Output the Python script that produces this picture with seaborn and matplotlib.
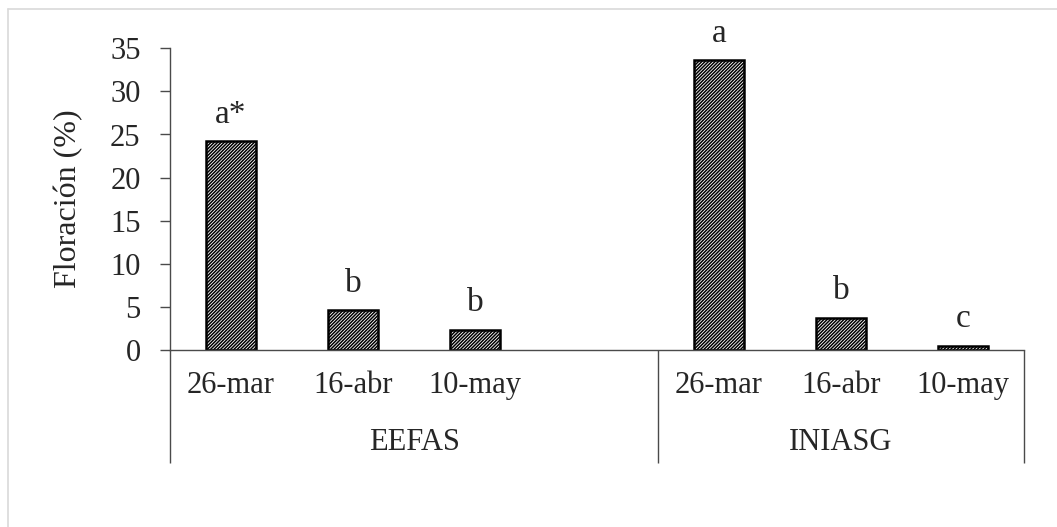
import matplotlib
matplotlib.use("Agg")
import matplotlib.pyplot as plt
import matplotlib.transforms as mtransforms
from matplotlib.lines import Line2D
import seaborn as sns
import pandas as pd

# ---- data ----
sites = ["EEFAS", "EEFAS", "EEFAS", "INIASG", "INIASG", "INIASG"]
dates = ["26-mar", "16-abr", "10-may", "26-mar", "16-abr", "10-may"]
values = [24.2, 4.6, 2.3, 33.6, 3.7, 0.5]
letters = ["a*", "b", "b", "a", "b", "c"]
groups = ["EEFAS", "INIASG"]
yticks = [0, 5, 10, 15, 20, 25, 30, 35]
ylabel = "Floración (%)"

sns.set_theme(style="white")
plt.rcParams["font.family"] = ["Liberation Serif", "DejaVu Serif"]
plt.rcParams["hatch.linewidth"] = 1.1

df = pd.DataFrame({"site": sites, "date": dates, "value": values})
df["key"] = df["site"] + " " + df["date"]
keys = list(df["key"])
order = keys[:3] + ["(gap)"] + keys[3:]
pos = [order.index(k) for k in keys]

W, H = 1057, 527
fig = plt.figure(figsize=(W / 100, H / 100), dpi=100)
ax = fig.add_axes([170 / W, 1 - 350 / H, (1024 - 170) / W, (350 - 48.3) / H])

sns.barplot(data=df, x="key", y="value", order=order, color="white",
            saturation=1, edgecolor="black", linewidth=1.8, width=0.41,
            hatch="//////////", errorbar=None, ax=ax)

ax.set_xlim(-0.5, len(order) - 0.5)
ax.set_ylim(0, 35)
ax.set_yticks(yticks)
ax.set_xticks(pos, dates)
ax.set_xlabel("")
ax.set_ylabel(ylabel, fontsize=23, labelpad=19)

spine_c = "#4a4a4a"
for s in ["top", "right"]:
    ax.spines[s].set_visible(False)
for s in ["left", "bottom"]:
    ax.spines[s].set_color(spine_c)
    ax.spines[s].set_linewidth(1.0)

ax.tick_params(axis="y", direction="out", length=7.2, width=1.0,
               color=spine_c, labelsize=22, pad=14, left=True)
ax.tick_params(axis="x", length=0, labelsize=22, pad=15)

for x, v, lab in zip(pos, values, letters):
    ax.annotate(lab, (x, v), xytext=(0, 13.5), textcoords="offset points",
                ha="center", va="baseline", fontsize=24)

# group separators and labels below the axis
trans = mtransforms.blended_transform_factory(ax.transData, ax.transAxes)
gap = order.index("(gap)")
bounds = [-0.5, gap + 0.5, len(order) - 0.5]
ybot = -(463 - 350) / (350 - 48.3)
for b in bounds:
    ax.plot([b, b], [0, ybot], transform=trans, color=spine_c, lw=1.0,
            clip_on=False, solid_capstyle="butt")
for g, (a, b) in zip(groups, zip(bounds[:-1], bounds[1:])):
    ax.text((a + b) / 2, -(442 - 350) / (350 - 48.3), g, transform=trans,
            ha="center", va="center", fontsize=22)

# faint outer frame
fig.add_artist(Line2D([7.5 / W, 1], [1 - 8.5 / H, 1 - 8.5 / H],
                      transform=fig.transFigure, color="#d9d9d9", lw=1.2))
fig.add_artist(Line2D([7.5 / W, 7.5 / W], [0, 1 - 8.5 / H],
                      transform=fig.transFigure, color="#d9d9d9", lw=1.2))

fig.savefig("out.png", dpi=100, facecolor="white")
